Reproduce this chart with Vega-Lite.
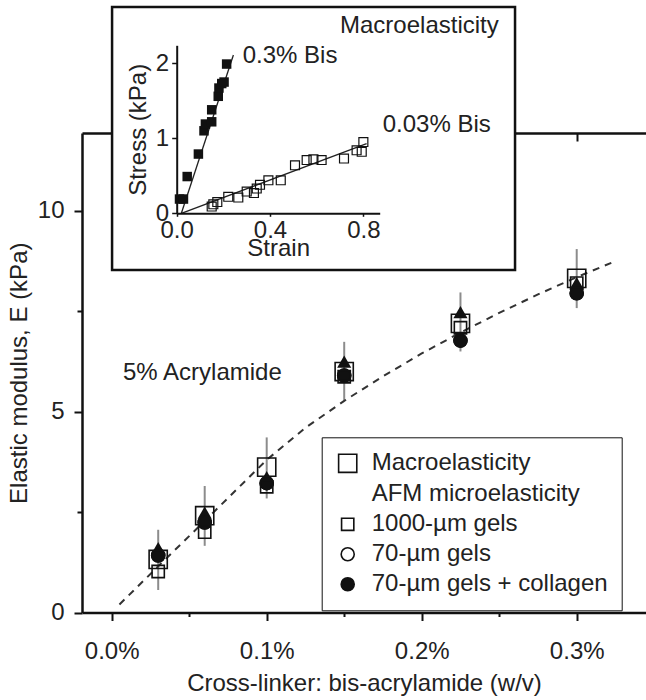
{
  "$schema": "https://vega.github.io/schema/vega-lite/v6.json",
  "width": 564,
  "height": 479.5,
  "autosize": {"type": "none"},
  "padding": {"left": 82, "top": 133, "right": 0, "bottom": 87.5},
  "background": "white",
  "config": {
    "view": {"stroke": null},
    "font": "Liberation Sans",
    "axis": {
      "labelFont": "Liberation Sans", "labelFontSize": 24, "labelColor": "#222",
      "titleFont": "Liberation Sans", "titleFontSize": 24, "titleFontWeight": "normal", "titleColor": "#222",
      "domainColor": "#111", "tickColor": "#111", "grid": false, "labelOverlap": false, "labelFlush": false
    },
    "legend": {
      "orient": "none", "legendX": 239.7, "legendY": 304.3,
      "labelFont": "Liberation Sans", "labelFontSize": 24, "labelColor": "#222", "labelLimit": 400,
      "strokeColor": "#111", "fillColor": "white", "padding": 14, "rowPadding": 6, "labelOffset": 12,
      "symbolStrokeWidth": 1.6
    }
  },
  "datasets": {
    "main": [
      {"series": "70-µm gels", "bis": 0.03, "E": 1.42},
      {"series": "70-µm gels", "bis": 0.06, "E": 2.24},
      {"series": "70-µm gels", "bis": 0.1, "E": 3.22},
      {"series": "70-µm gels", "bis": 0.15, "E": 5.9},
      {"series": "70-µm gels", "bis": 0.225, "E": 6.77},
      {"series": "70-µm gels", "bis": 0.3, "E": 7.95},
      {"series": "70-µm gels + collagen", "bis": 0.03, "E": 1.42},
      {"series": "70-µm gels + collagen", "bis": 0.06, "E": 2.24},
      {"series": "70-µm gels + collagen", "bis": 0.1, "E": 3.22},
      {"series": "70-µm gels + collagen", "bis": 0.15, "E": 5.9},
      {"series": "70-µm gels + collagen", "bis": 0.225, "E": 6.77},
      {"series": "70-µm gels + collagen", "bis": 0.3, "E": 7.95},
      {"series": "1000-µm gels", "bis": 0.03, "E": 1.02},
      {"series": "1000-µm gels", "bis": 0.06, "E": 2.0},
      {"series": "1000-µm gels", "bis": 0.1, "E": 3.13},
      {"series": "1000-µm gels", "bis": 0.15, "E": 5.87},
      {"series": "1000-µm gels", "bis": 0.225, "E": 7.09},
      {"series": "1000-µm gels", "bis": 0.3, "E": 8.2},
      {"series": "Macroelasticity", "bis": 0.03, "E": 1.32},
      {"series": "Macroelasticity", "bis": 0.06, "E": 2.41},
      {"series": "Macroelasticity", "bis": 0.1, "E": 3.62},
      {"series": "Macroelasticity", "bis": 0.15, "E": 6.0},
      {"series": "Macroelasticity", "bis": 0.225, "E": 7.2},
      {"series": "Macroelasticity", "bis": 0.3, "E": 8.32}
    ],
    "tri": [
      {"bis": 0.03, "E": 1.6},
      {"bis": 0.06, "E": 2.49},
      {"bis": 0.1, "E": 3.37},
      {"bis": 0.15, "E": 6.25},
      {"bis": 0.225, "E": 7.48},
      {"bis": 0.3, "E": 8.2}
    ],
    "err": [
      {"bis": 0.03, "lo": 0.56, "hi": 2.06},
      {"bis": 0.06, "lo": 1.66, "hi": 3.15},
      {"bis": 0.1, "lo": 2.84, "hi": 4.36},
      {"bis": 0.15, "lo": 5.29, "hi": 6.74},
      {"bis": 0.225, "lo": 6.5, "hi": 7.97},
      {"bis": 0.3, "lo": 7.58, "hi": 9.05}
    ],
    "curve": [
      {"bis": 0.005, "E": 0.2},
      {"bis": 0.03, "E": 1.15},
      {"bis": 0.06, "E": 2.28},
      {"bis": 0.1, "E": 3.8},
      {"bis": 0.125, "E": 4.6},
      {"bis": 0.15, "E": 5.27},
      {"bis": 0.175, "E": 5.88},
      {"bis": 0.2, "E": 6.45},
      {"bis": 0.225, "E": 6.97},
      {"bis": 0.25, "E": 7.46},
      {"bis": 0.275, "E": 7.92},
      {"bis": 0.3, "E": 8.35},
      {"bis": 0.325, "E": 8.75}
    ],
    "bis03": [
      {"strain": 0.012, "stress": 0.19},
      {"strain": 0.029, "stress": 0.19},
      {"strain": 0.045, "stress": 0.49},
      {"strain": 0.093, "stress": 0.79},
      {"strain": 0.117, "stress": 1.1},
      {"strain": 0.123, "stress": 1.19},
      {"strain": 0.15, "stress": 1.22},
      {"strain": 0.15, "stress": 1.38},
      {"strain": 0.178, "stress": 1.56},
      {"strain": 0.181, "stress": 1.67},
      {"strain": 0.193, "stress": 1.73},
      {"strain": 0.203, "stress": 1.75},
      {"strain": 0.214, "stress": 1.99}
    ],
    "bis003": [
      {"strain": 0.15, "stress": 0.09},
      {"strain": 0.157, "stress": 0.12},
      {"strain": 0.174, "stress": 0.15},
      {"strain": 0.221, "stress": 0.22},
      {"strain": 0.264, "stress": 0.21},
      {"strain": 0.3, "stress": 0.29},
      {"strain": 0.331, "stress": 0.27},
      {"strain": 0.343, "stress": 0.33},
      {"strain": 0.357, "stress": 0.38},
      {"strain": 0.393, "stress": 0.44},
      {"strain": 0.446, "stress": 0.44},
      {"strain": 0.507, "stress": 0.64},
      {"strain": 0.557, "stress": 0.71},
      {"strain": 0.586, "stress": 0.72},
      {"strain": 0.621, "stress": 0.71},
      {"strain": 0.717, "stress": 0.73},
      {"strain": 0.771, "stress": 0.84},
      {"strain": 0.793, "stress": 0.82},
      {"strain": 0.8, "stress": 0.95}
    ],
    "fits": [
      {"gel": "0.3% Bis", "strain": 0.02, "stress": 0},
      {"gel": "0.3% Bis", "strain": 0.243, "stress": 2.11},
      {"gel": "0.03% Bis", "strain": 0.02, "stress": 0},
      {"gel": "0.03% Bis", "strain": 0.814, "stress": 0.93}
    ]
  },
  "layer": [
    {
      "layer": [
        {
          "data": {"name": "err"},
          "mark": {"type": "rule", "color": "#8c8c8c", "strokeWidth": 2},
          "encoding": {
            "x": {
              "field": "bis", "type": "quantitative", "title": "Cross-linker: bis-acrylamide (w/v)",
              "scale": {"domain": [-0.01916, 0.3447], "nice": false, "zero": false},
              "axis": {
                "orient": "bottom",
                "values": [0, 0.05, 0.1, 0.15, 0.2, 0.25, 0.3],
                "labelExpr": "round(datum.value*100) % 10 === 0 ? format(datum.value, '.1f') + '%' : ''",
                "tickSize": {"condition": {"test": "round(datum.value*100) % 10 === 0", "value": 8}, "value": 4},
                "tickWidth": 2, "domainWidth": 2.5, "labelPadding": 19, "titlePadding": 8
              }
            },
            "y": {
              "field": "lo", "type": "quantitative", "title": "Elastic modulus, E (kPa)",
              "scale": {"domain": [0, 11.94], "nice": false, "zero": false},
              "axis": {
                "orient": "left",
                "values": [0, 2.5, 5, 7.5, 10],
                "labelExpr": "datum.value % 5 === 0 ? datum.label : ''",
                "tickSize": {"condition": {"test": "datum.value % 5 === 0", "value": 8}, "value": 5},
                "tickWidth": 2, "domainWidth": 2.5, "labelPadding": 10, "titlePadding": 6
              }
            },
            "y2": {"field": "hi"}
          }
        },
        {
          "data": {"name": "curve"},
          "mark": {"type": "line", "stroke": "#333", "strokeWidth": 2, "strokeDash": [7, 6]},
          "encoding": {
            "x": {"field": "bis", "type": "quantitative", "title": "Cross-linker: bis-acrylamide (w/v)"},
            "y": {"field": "E", "type": "quantitative", "title": "Elastic modulus, E (kPa)"}
          }
        },
        {
          "data": {"name": "tri"},
          "mark": {"type": "point", "shape": "triangle-up", "filled": true, "color": "#111", "size": 200, "opacity": 1},
          "encoding": {
            "x": {"field": "bis", "type": "quantitative", "title": "Cross-linker: bis-acrylamide (w/v)"},
            "y": {"field": "E", "type": "quantitative", "title": "Elastic modulus, E (kPa)"}
          }
        },
        {
          "data": {"name": "main"},
          "mark": {"type": "point", "filled": true, "strokeWidth": 1.6, "opacity": 1},
          "encoding": {
            "x": {"field": "bis", "type": "quantitative", "title": "Cross-linker: bis-acrylamide (w/v)"},
            "y": {"field": "E", "type": "quantitative", "title": "Elastic modulus, E (kPa)"},
            "shape": {
              "field": "series", "type": "nominal",
              "scale": {"domain": ["Macroelasticity", "AFM microelasticity", "1000-µm gels", "70-µm gels", "70-µm gels + collagen"], "range": ["square", "square", "square", "circle", "circle"]},
              "legend": {
                "title": null, "symbolStrokeWidth": 1.6,
                "encode": {
                  "labels": {"dx": {"condition": {"test": "datum.value === 'AFM microelasticity'", "value": -35}, "value": 0}},
                  "legend": {"strokeWidth": {"value": 2}}
                }
              }
            },
            "fill": {
              "field": "series", "type": "nominal",
              "scale": {"domain": ["Macroelasticity", "AFM microelasticity", "1000-µm gels", "70-µm gels", "70-µm gels + collagen"], "range": ["transparent", "transparent", "transparent", "white", "#111"]},
              "legend": {"title": null}
            },
            "stroke": {
              "field": "series", "type": "nominal",
              "scale": {"domain": ["Macroelasticity", "AFM microelasticity", "1000-µm gels", "70-µm gels", "70-µm gels + collagen"], "range": ["#111", "transparent", "#111", "#111", "#111"]},
              "legend": {"title": null}
            },
            "size": {
              "field": "series", "type": "nominal",
              "scale": {"type": "ordinal", "domain": ["Macroelasticity", "AFM microelasticity", "1000-µm gels", "70-µm gels", "70-µm gels + collagen"], "range": [330, 0, 150, 170, 170]},
              "legend": {"title": null}
            }
          }
        },
        {
          "data": {"values": [{}]},
          "mark": {"type": "text", "text": "5% Acrylamide", "align": "left", "baseline": "alphabetic", "fontSize": 24, "font": "Liberation Sans", "color": "#222"},
          "encoding": {
            "x": {"datum": 0.0073, "type": "quantitative"},
            "y": {"datum": 5.79, "type": "quantitative"}
          }
        }
      ]
    },
    {
      "data": {"name": "curve"},
      "mark": {"type": "rule", "opacity": 0},
      "encoding": {
        "x": {
          "field": "bis", "type": "quantitative", "title": null,
          "scale": {"domain": [-0.01916, 0.3447], "nice": false, "zero": false},
          "axis": {"orient": "top", "values": [0, 0.05, 0.1, 0.15, 0.2, 0.25, 0.3], "labels": false, "tickSize": -8, "tickWidth": 2, "domainWidth": 2.5}
        }
      }
    },
    {
      "layer": [
        {
          "data": {"values": [{}]},
          "mark": {"type": "rect", "fill": "white", "stroke": "#111", "strokeWidth": 2.5},
          "encoding": {
            "x": {
              "datum": -0.277, "type": "quantitative", "title": "Strain",
              "scale": {"domain": [0, 0.87], "range": [94.7, 297.7], "nice": false, "zero": false},
              "axis": {"orient": "bottom", "offset": -399.2, "values": [0, 0.4, 0.8], "format": ".1f", "tickSize": 3, "labelPadding": 2, "domainWidth": 2, "tickWidth": 1.5, "zindex": 1, "titleY": 23}
            },
            "x2": {"datum": 1.45},
            "y": {
              "datum": 2.75, "type": "quantitative", "title": "Stress (kPa)",
              "scale": {"domain": [0, 2.24], "range": [80.3, -87.7], "nice": false, "zero": false},
              "axis": {"orient": "left", "offset": -94.7, "values": [0, 1, 2], "format": "d", "tickSize": 5, "labelPadding": 3, "domainWidth": 2, "tickWidth": 1.5, "zindex": 1, "titlePadding": 5}
            },
            "y2": {"datum": -0.756}
          }
        },
        {
          "data": {"name": "fits"},
          "mark": {"type": "line", "stroke": "#222", "strokeWidth": 1.3},
          "encoding": {
            "x": {"field": "strain", "type": "quantitative", "title": "Strain"},
            "y": {"field": "stress", "type": "quantitative", "title": "Stress (kPa)"},
            "detail": {"field": "gel", "type": "nominal"}
          }
        },
        {
          "data": {"name": "bis03"},
          "mark": {"type": "point", "shape": "square", "filled": true, "color": "#111", "size": 90, "opacity": 1},
          "encoding": {
            "x": {"field": "strain", "type": "quantitative", "title": "Strain"},
            "y": {"field": "stress", "type": "quantitative", "title": "Stress (kPa)"}
          }
        },
        {
          "data": {"name": "bis003"},
          "mark": {"type": "point", "shape": "square", "filled": false, "stroke": "#111", "strokeWidth": 1.2, "size": 80, "opacity": 1},
          "encoding": {
            "x": {"field": "strain", "type": "quantitative", "title": "Strain"},
            "y": {"field": "stress", "type": "quantitative", "title": "Stress (kPa)"}
          }
        },
        {
          "data": {"values": [{}]},
          "mark": {"type": "text", "text": "Macroelasticity", "align": "left", "baseline": "alphabetic", "fontSize": 24, "font": "Liberation Sans", "color": "#222"},
          "encoding": {"x": {"datum": 0.7, "type": "quantitative"}, "y": {"datum": 2.4, "type": "quantitative"}}
        },
        {
          "data": {"values": [{}]},
          "mark": {"type": "text", "text": "0.3% Bis", "align": "left", "baseline": "alphabetic", "fontSize": 24, "font": "Liberation Sans", "color": "#222"},
          "encoding": {"x": {"datum": 0.283, "type": "quantitative"}, "y": {"datum": 2.0, "type": "quantitative"}}
        },
        {
          "data": {"values": [{}]},
          "mark": {"type": "text", "text": "0.03% Bis", "align": "left", "baseline": "alphabetic", "fontSize": 24, "font": "Liberation Sans", "color": "#222"},
          "encoding": {"x": {"datum": 0.883, "type": "quantitative"}, "y": {"datum": 1.088, "type": "quantitative"}}
        }
      ]
    }
  ],
  "resolve": {
    "scale": {"x": "independent", "y": "independent"},
    "axis": {"x": "independent", "y": "independent"}
  }
}
